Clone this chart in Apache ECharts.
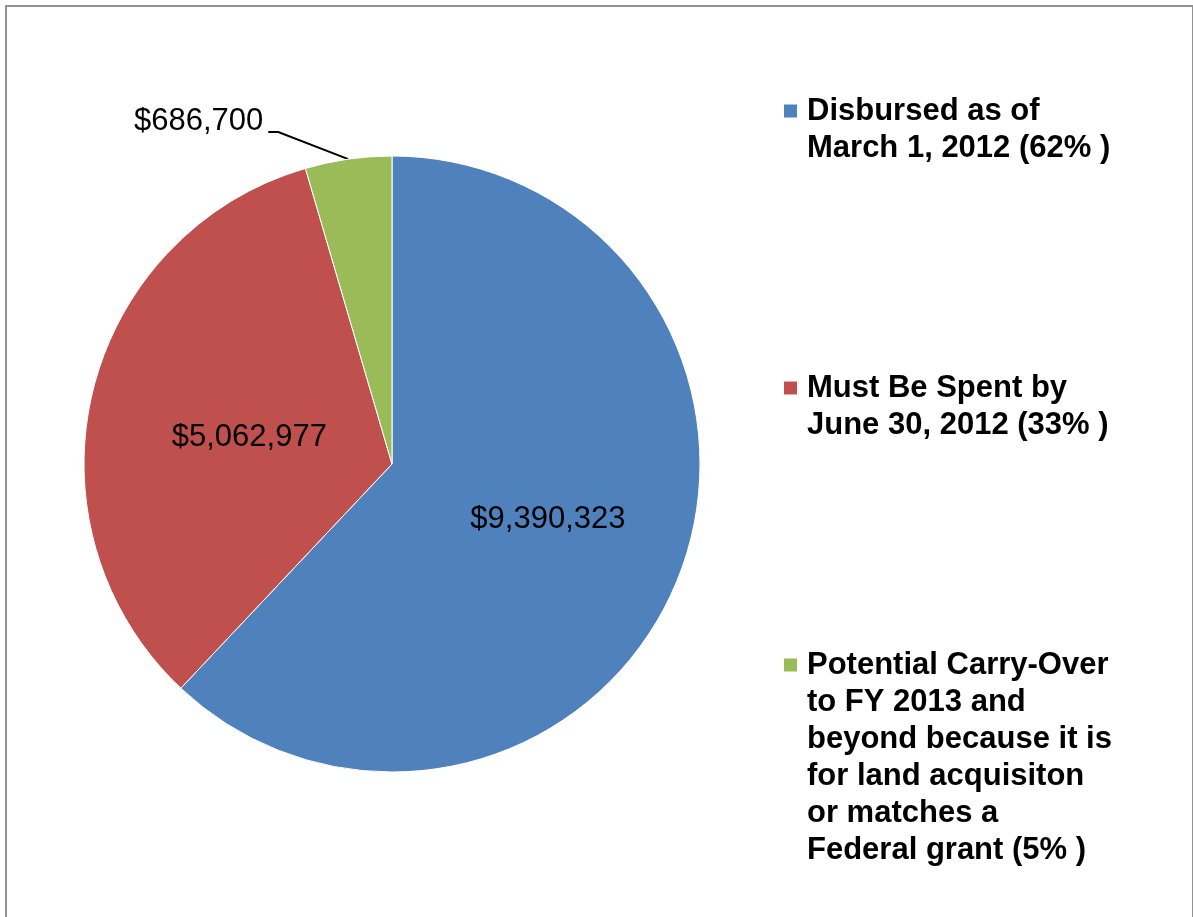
<!DOCTYPE html>
<html>
<head>
<meta charset="utf-8">
<title>Funds pie</title>
<script src="https://cdn.jsdelivr.net/npm/echarts@6/dist/echarts.min.js"></script>
<style>
  html, body { margin: 0; padding: 0; background: #fff; }
  #frame {
    position: absolute; left: 5px; top: 5px; width: 1185px; height: 930px;
    border: 2px solid #929292; border-bottom: none;
  }
  #chart { position: absolute; left: 0; top: 0; width: 1193px; height: 917px; }
</style>
</head>
<body>
<div id="frame"></div>
<div id="chart"></div>
<script>
const categories = ['Disbursed', 'Must Be Spent', 'Potential Carry-Over'];
const values = [9390323, 5062977, 686700];
const legendLabels = [
  'Disbursed as of\nMarch 1, 2012 (62% )',
  'Must Be Spent by\nJune 30, 2012 (33% )',
  'Potential Carry-Over\nto FY 2013 and\nbeyond because it is\nfor land acquisiton\nor matches a\nFederal grant (5% )'
];
const colors = ['#4F81BD', '#C0504D', '#9BBB59'];

const chartDom = document.getElementById('chart');
const myChart = echarts.init(chartDom);

const FONT = '"Liberation Sans", Arial, sans-serif';
const LINE_H = 37;
// first-line centre of each legend entry
const legendFirstLine = [111, 388, 665];
// small nudges for the inside labels
const insideNudge = [[10, -2], [10, 10]];

// one legend per entry so the square sits on the first text line:
// blank lines are prepended so the block's middle is the first real line
const legends = categories.map((name, i) => {
  const n = legendLabels[i].split('\n').length;
  return {
    data: [name],
    orient: 'vertical',
    left: 782,
    top: legendFirstLine[i] - (2 * n - 1) * LINE_H / 2,
    padding: 0,
    itemWidth: 15,
    itemHeight: 15,
    icon: 'rect',
    selectedMode: false,
    formatter: () => '\n'.repeat(n - 1) + legendLabels[i],
    textStyle: {
      fontFamily: FONT,
      fontSize: 31,
      fontWeight: 'bold',
      color: '#000',
      lineHeight: LINE_H,
      padding: [0, 0, 0, 4]
    }
  };
});

const money = (v) => '$' + v.toLocaleString('en-US');

const option = {
  animation: false,
  color: colors,
  legend: legends,
  series: [
    {
      type: 'pie',
      center: [392, 464],
      radius: 308,
      startAngle: 90,
      clockwise: true,
      itemStyle: { borderColor: '#fff', borderWidth: 1 },
      label: {
        show: true,
        position: 'inside',
        formatter: (p) => money(p.value),
        fontFamily: FONT,
        fontSize: 31,
        color: '#000'
      },
      labelLine: { show: false },
      // move the small slice's label up-left and redraw its leader line
      // from the slice's own anchor point
      labelLayout: (params) => {
        if (params.dataIndex !== 2) {
          const d = insideNudge[params.dataIndex];
          return { dx: d[0], dy: d[1] };
        }
        if (!params.labelLinePoints) return {};
        const a = params.labelLinePoints[0];
        const r = params.labelRect;
        const right = a[0] - 85;
        const midY = a[1] - 38;
        const lineY = a[1] - 27;
        return {
          dx: right - (r.x + r.width),
          dy: midY - (r.y + r.height / 2),
          labelLinePoints: [
            [a[0], a[1]],
            [right + 15, lineY],
            [right + 5, lineY]
          ]
        };
      },
      data: categories.map((name, i) => {
        const item = { name: name, value: values[i] };
        if (i === 2) {
          item.label = { position: 'outside' };
          item.labelLine = {
            show: true,
            length: 20,
            length2: 10,
            lineStyle: { color: '#000', width: 2 }
          };
        }
        return item;
      })
    }
  ]
};

myChart.setOption(option);
window.addEventListener('resize', myChart.resize);
</script>
</body>
</html>
